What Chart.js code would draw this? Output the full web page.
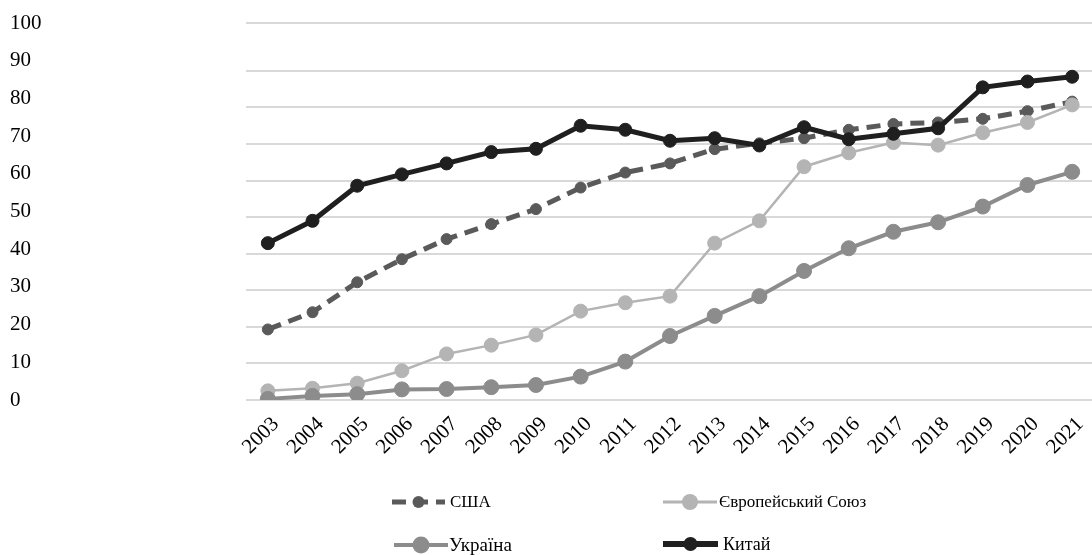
<!DOCTYPE html>
<html lang="uk">
<head>
<meta charset="utf-8">
<title>Динаміка показника: США, ЄС, Україна, Китай (2003–2021)</title>
<script src="https://cdn.jsdelivr.net/npm/chart.js@4/dist/chart.umd.min.js"></script>
<style>
  html, body { margin: 0; padding: 0; background: #ffffff; overflow: hidden; }
  #wrap { width: 1103px; height: 555px; }
</style>
</head>
<body>
<div id="wrap"><canvas id="chart" width="1103" height="555"></canvas></div>
<script>
// Years on the horizontal axis
const years = ['2003','2004','2005','2006','2007','2008','2009','2010','2011','2012',
               '2013','2014','2015','2016','2017','2018','2019','2020','2021'];

// Series values
const usa     = [19.3, 24.0, 32.2, 38.5, 44.0, 48.1, 52.2, 58.1, 62.2, 64.7,
                 68.6, 70.2, 71.6, 73.9, 75.5, 75.9, 76.9, 79.0, 81.6];
const eu      = [2.5, 3.2, 4.6, 8.0, 12.6, 15.0, 17.8, 24.3, 26.6, 28.4,
                 42.9, 49.0, 63.8, 67.6, 70.4, 69.7, 73.1, 75.9, 80.7];
const ukraine = [0.3, 1.1, 1.6, 2.9, 3.0, 3.5, 4.1, 6.4, 10.5, 17.5,
                 23.0, 28.4, 35.3, 41.5, 46.0, 48.6, 52.9, 58.8, 62.4];
const china   = [42.9, 49.0, 58.6, 61.7, 64.7, 67.8, 68.7, 75.0, 73.9, 70.9,
                 71.6, 69.6, 74.6, 71.3, 72.8, 74.3, 85.5, 87.1, 88.4];

// Series names
const seriesNames = ['США', 'Європейський Союз', 'Україна', 'Китай'];

// Grid line values and the value at the top edge of the plot
const gridValues = [0, 10, 20, 30, 40, 50, 60, 70, 80, 90];
const plotTop = 103.1;

// Axis label range
const labelMin = 0, labelMax = 100, labelStep = 10;

const SERIF = '"Liberation Serif", "Times New Roman", serif';

// Legend drawn as a two-column block under the axis
const legendSlots = [
  { x: 392, y: 502, w: 53, textX: 450, size: 17, lw: 5, r: 6 },   // США
  { x: 663, y: 502, w: 54, textX: 719, size: 17, lw: 3, r: 8 },   // Європейський Союз
  { x: 394, y: 545, w: 54, textX: 449, size: 19, lw: 4, r: 8.5 }, // Україна
  { x: 663, y: 544, w: 55, textX: 723, size: 18, lw: 6, r: 7 }    // Китай
];

const gridLegend = {
  id: 'gridLegend',
  afterDraw(chart) {
    const ctx = chart.ctx;
    chart.data.datasets.forEach((ds, i) => {
      const s = legendSlots[i];
      ctx.save();
      ctx.strokeStyle = ds.borderColor;
      ctx.lineWidth = s.lw;
      ctx.setLineDash(ds.borderDash || []);
      ctx.beginPath();
      ctx.moveTo(s.x, s.y);
      ctx.lineTo(s.x + s.w, s.y);
      ctx.stroke();
      ctx.setLineDash([]);
      ctx.fillStyle = ds.pointBackgroundColor;
      ctx.beginPath();
      ctx.arc(s.x + s.w / 2, s.y, s.r, 0, Math.PI * 2);
      ctx.fill();
      ctx.fillStyle = '#000000';
      ctx.font = s.size + 'px ' + SERIF;
      ctx.textBaseline = 'middle';
      ctx.textAlign = 'left';
      ctx.fillText(ds.label, s.textX, s.y + 1);
      ctx.restore();
    });
  }
};

const ctx = document.getElementById('chart').getContext('2d');
new Chart(ctx, {
  type: 'line',
  data: {
    labels: years,
    datasets: [
      {
        label: seriesNames[0], data: usa, order: 4, yAxisID: 'y',
        borderColor: '#5a5a5a', backgroundColor: '#5a5a5a',
        pointBackgroundColor: '#5a5a5a', pointBorderColor: '#5a5a5a',
        borderWidth: 5, borderDash: [14, 8], pointRadius: 5.5, pointBorderWidth: 1
      },
      {
        label: seriesNames[1], data: eu, order: 3, yAxisID: 'y',
        borderColor: '#b4b4b4', backgroundColor: '#b4b4b4',
        pointBackgroundColor: '#b4b4b4', pointBorderColor: '#b4b4b4',
        borderWidth: 2.5, pointRadius: 7, pointBorderWidth: 1
      },
      {
        label: seriesNames[2], data: ukraine, order: 2, yAxisID: 'y',
        borderColor: '#8c8c8c', backgroundColor: '#8c8c8c',
        pointBackgroundColor: '#8c8c8c', pointBorderColor: '#8c8c8c',
        borderWidth: 4, pointRadius: 7.5, pointBorderWidth: 1
      },
      {
        label: seriesNames[3], data: china, order: 1, yAxisID: 'y',
        borderColor: '#1f1f1f', backgroundColor: '#1f1f1f',
        pointBackgroundColor: '#1f1f1f', pointBorderColor: '#1f1f1f',
        borderWidth: 5, pointRadius: 6.5, pointBorderWidth: 1
      }
    ]
  },
  options: {
    responsive: false,
    animation: false,
    events: [],
    layout: { padding: { left: 10, top: 23, right: 0, bottom: 95 } },
    elements: { line: { tension: 0 } },
    plugins: {
      legend: { display: false },
      tooltip: { enabled: false },
      title: { display: false }
    },
    scales: {
      yLabels: {
        type: 'linear', position: 'left',
        min: labelMin, max: labelMax,
        grid: { display: false, drawTicks: false },
        border: { display: false },
        ticks: {
          stepSize: labelStep, crossAlign: 'far', padding: 0, labelOffset: 0,
          color: '#000000', font: { family: SERIF, size: 21 }
        },
        afterFit(scale) { scale.width = 235.5; }
      },
      y: {
        type: 'linear', position: 'left',
        min: 0, max: plotTop,
        grid: { color: '#d9d9d9', lineWidth: 2, drawTicks: false },
        border: { display: false },
        ticks: { display: false },
        afterBuildTicks(scale) {
          scale.ticks = gridValues.concat([plotTop]).map(v => ({ value: v }));
        },
        afterFit(scale) { scale.width = 0; }
      },
      x: {
        type: 'category', offset: true,
        grid: { display: false, drawTicks: false },
        border: { display: false },
        ticks: {
          minRotation: 45, maxRotation: 45, autoSkip: false,
          padding: 12, labelOffset: 8,
          color: '#000000', font: { family: SERIF, size: 21 }
        },
        afterFit(scale) { scale.height = 60; }
      }
    }
  },
  plugins: [gridLegend]
});
</script>
</body>
</html>
